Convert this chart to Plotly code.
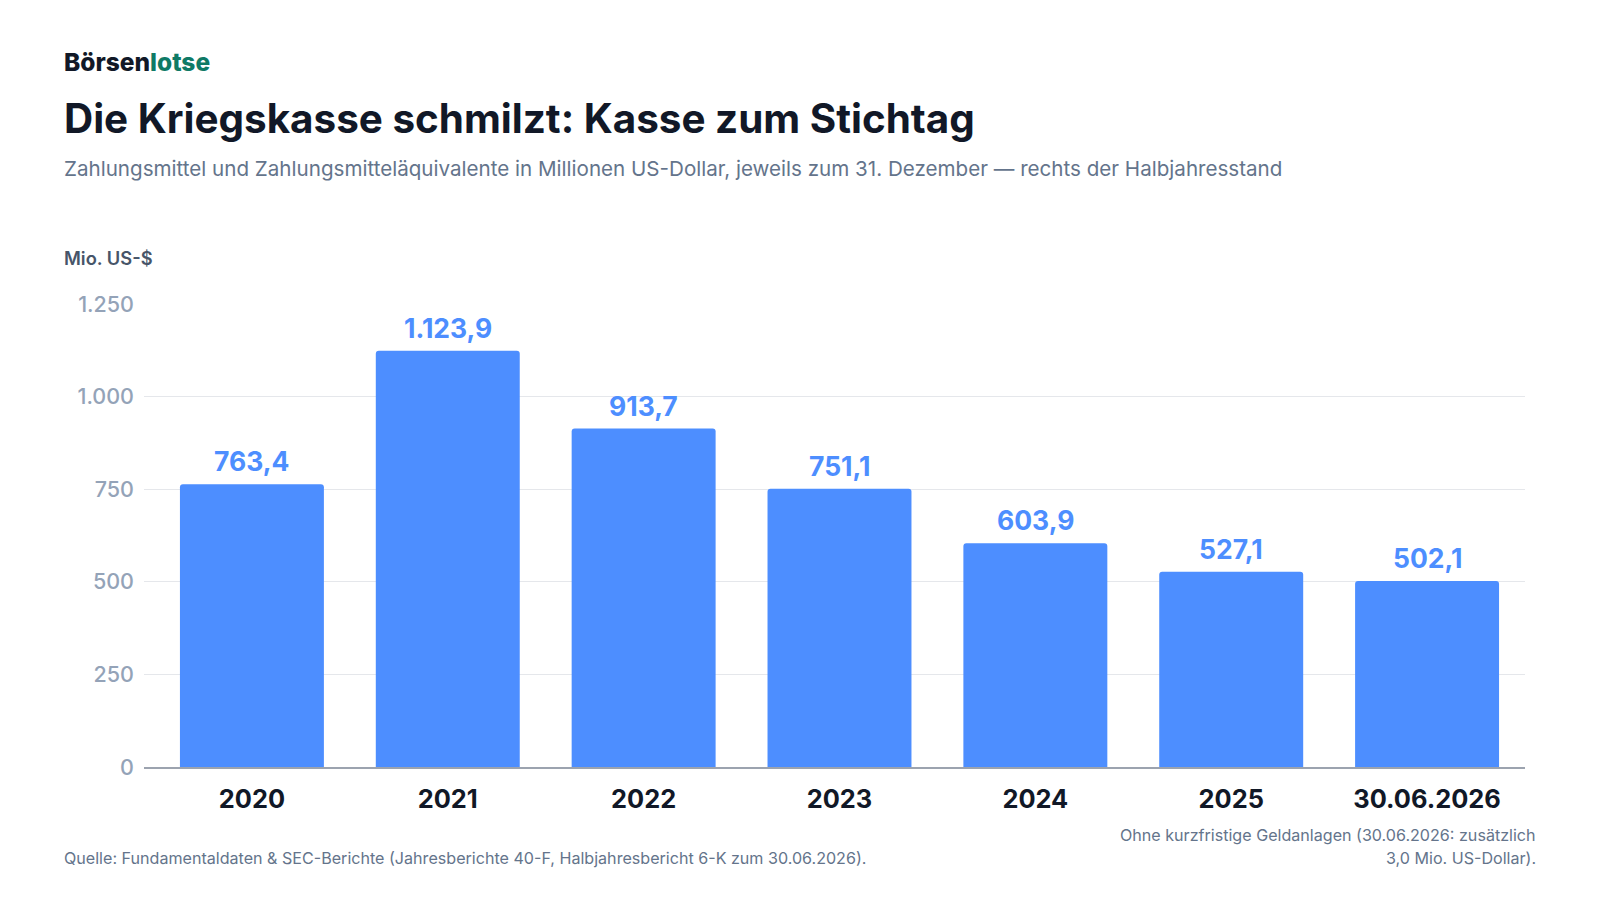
import plotly.graph_objects as go

categories = ["2020", "2021", "2022", "2023", "2024", "2025", "30.06.2026"]
values = [763.4, 1123.9, 913.7, 751.1, 603.9, 527.1, 502.1]
y_ticks = [0, 250, 500, 750, 1000, 1250]


def de_fmt(v, decimals=1):
    s = f"{v:,.{decimals}f}"
    return s.replace(",", "X").replace(".", ",").replace("X", ".")


BLUE = "#4d8eff"
DARK = "#111827"
GRAY = "#64748b"
FONT = "Inter, Roboto, sans-serif"

W, H = 1584, 884
L, R, T, B = 136, W - 1517.5, 296, H - 759.5
PW, PH = W - L - R, H - T - B

fig = go.Figure()
fig.add_trace(go.Bar(
    x=categories,
    y=values,
    marker=dict(color=BLUE, line=dict(width=0), cornerradius=3),
    hoverinfo="skip",
))

for i, v in enumerate(values):
    fig.add_annotation(
        x=i, y=v, xref="x", yref="y", text=de_fmt(v), showarrow=False,
        yanchor="middle", yshift=23,
        font=dict(family=FONT, size=26.5, color=BLUE, weight=700),
    )

fig.update_layout(
    width=W,
    height=H,
    paper_bgcolor="white",
    plot_bgcolor="white",
    separators=",.",
    margin=dict(l=L, r=R, t=T, b=B, pad=0),
    bargap=0.265,
    showlegend=False,
    font=dict(family=FONT, color=DARK),
    xaxis=dict(
        type="category",
        range=[-0.551, 6.5],
        showgrid=False,
        showline=True,
        linecolor="#9ca3af",
        linewidth=2,
        ticks="",
        tickfont=dict(family=FONT, size=25.4, color=DARK, weight=700),
        ticklabelstandoff=9,
    ),
    yaxis=dict(
        range=[0, 1250],
        tickvals=y_ticks,
        ticktext=[de_fmt(t, 0) for t in y_ticks],
        showgrid=True,
        gridcolor="#e5e7eb",
        gridwidth=1,
        zeroline=False,
        showline=False,
        ticks="",
        tickfont=dict(family=FONT, size=21.5, color="#94a3b8", weight=500),
        ticklabelstandoff=9,
    ),
)


def px_x(x):
    return (x - L) / PW


def px_y(y):
    return (H - y - B) / PH


texts = [
    ("<span style='color:#111827'>Börsen</span><span style='color:#0f7a66'>lotse</span>",
     54, 53.5, dict(size=24.5, color=DARK, family=FONT, weight=800), "left"),
    ("Die Kriegskasse schmilzt: Kasse zum Stichtag",
     54, 110.5, dict(size=40.4, color=DARK, family=FONT, weight=700), "left"),
    ("Zahlungsmittel und Zahlungsmitteläquivalente in Millionen US-Dollar, jeweils zum 31. Dezember — rechts der Halbjahresstand",
     54, 160.5, dict(size=20.6, color=GRAY, family=FONT), "left"),
    ("Mio. US-$",
     54, 250, dict(size=18.3, color="#475569", family=FONT, weight=600), "left"),
    ("Quelle: Fundamentaldaten & SEC-Berichte (Jahresberichte 40-F, Halbjahresbericht 6-K zum 30.06.2026).",
     54, 850.5, dict(size=16.1, color=GRAY, family=FONT), "left"),
    ("Ohne kurzfristige Geldanlagen (30.06.2026: zusätzlich",
     1531, 827.5, dict(size=16.1, color=GRAY, family=FONT), "right"),
    ("3,0 Mio. US-Dollar).",
     1531, 850.5, dict(size=16.1, color=GRAY, family=FONT), "right"),
]
for text, x, y, font, anchor in texts:
    fig.add_annotation(xref="paper", yref="paper", xanchor=anchor, yanchor="middle",
                       showarrow=False, align=anchor, text=text, font=font,
                       x=px_x(x), y=px_y(y))

fig.write_html("out.html")
